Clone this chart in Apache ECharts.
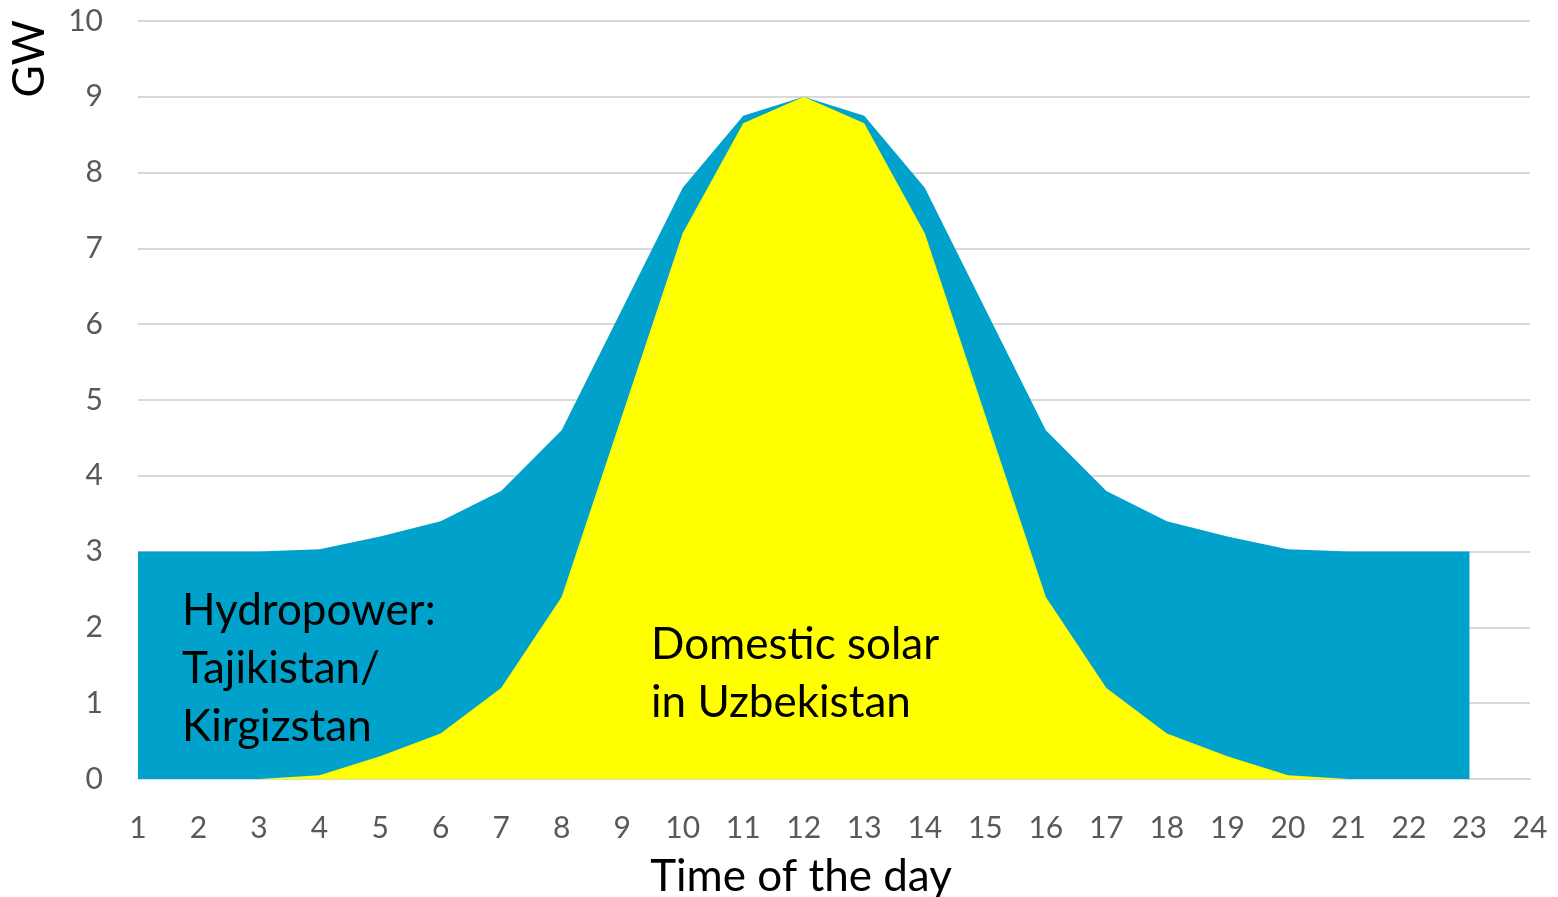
<!DOCTYPE html>
<html>
<head>
<meta charset="utf-8">
<script src="https://cdn.jsdelivr.net/npm/echarts@6/dist/echarts.min.js"></script>
<style>
    html, body { margin: 0; padding: 0; background: #fff; }
    #chart { width: 1558px; height: 897px; }
</style>
</head>
<body>
<div id="chart"></div>
<script>
// Hours of the day (1..23 have values, axis runs to 24)
const hours = [1, 2, 3, 4, 5, 6, 7, 8, 9, 10, 11, 12, 13, 14, 15, 16, 17, 18, 19, 20, 21, 22, 23];

// Top of the blue area: solar + hydropower, GW
const totalSupply = [3, 3, 3, 3.03, 3.2, 3.4, 3.8, 4.6, 6.2, 7.8, 8.75, 9, 8.75, 7.8, 6.2, 4.6, 3.8, 3.4, 3.2, 3.03, 3, 3, 3];

// Domestic solar in Uzbekistan, GW
const solar = [0, 0, 0, 0.05, 0.3, 0.6, 1.2, 2.4, 4.8, 7.2, 8.65, 9, 8.65, 7.2, 4.8, 2.4, 1.2, 0.6, 0.3, 0.05, 0, 0, 0];

const FONT = 'Lato, "Open Sans", sans-serif';
const BLUE = '#00A2CB';
const YELLOW = '#FFFF00';

const toPairs = (values) => hours.map((h, i) => [h, values[i]]);

const chart = echarts.init(document.getElementById('chart'));

chart.setOption({
    animation: false,
    backgroundColor: '#fff',
    grid: { left: 138, right: 28, top: 21, bottom: 118, containLabel: false, outerBoundsMode: 'none' },
    xAxis: {
        type: 'value',
        min: 1,
        max: 24,
        interval: 1,
        name: 'Time of the day',
        nameLocation: 'middle',
        nameGap: 76,
        nameTextStyle: { fontFamily: FONT, fontSize: 44, color: '#000', padding: [0, 66, 0, 0] },
        axisLine: { lineStyle: { color: '#d9d9d9', width: 2 } },
        axisTick: { show: false },
        splitLine: { show: false },
        axisLabel: { fontFamily: FONT, fontSize: 30, color: '#595959', margin: 34 }
    },
    yAxis: {
        type: 'value',
        min: 0,
        max: 10,
        interval: 1,
        axisLine: { show: false },
        axisTick: { show: false },
        splitLine: { lineStyle: { color: '#d9d9d9', width: 2 } },
        axisLabel: { fontFamily: FONT, fontSize: 30, color: '#595959', margin: 35 }
    },
    graphic: [
        {
            type: 'text',
            left: 8,
            top: 20,
            z: 100,
            rotation: Math.PI / 2,
            style: { text: 'GW', fontFamily: FONT, fontSize: 44, fill: '#000' }
        },
        {
            type: 'text',
            left: 182,
            top: 582,
            z: 100,
            style: {
                text: 'Hydropower:\nTajikistan/\nKirgizstan',
                fontFamily: FONT, fontSize: 44, lineHeight: 58, fill: '#000'
            }
        },
        {
            type: 'text',
            left: 651,
            top: 616,
            z: 100,
            style: {
                text: 'Domestic solar\nin Uzbekistan',
                fontFamily: FONT, fontSize: 44, lineHeight: 58, fill: '#000'
            }
        }
    ],
    series: [
        {
            name: 'Hydropower',
            type: 'line',
            data: toPairs(totalSupply),
            symbol: 'none',
            lineStyle: { width: 0 },
            areaStyle: { color: BLUE, opacity: 1 },
            z: 2
        },
        {
            name: 'Domestic solar',
            type: 'line',
            data: toPairs(solar),
            symbol: 'none',
            lineStyle: { width: 0 },
            areaStyle: { color: YELLOW, opacity: 1 },
            z: 3
        }
    ]
});
</script>
</body>
</html>
